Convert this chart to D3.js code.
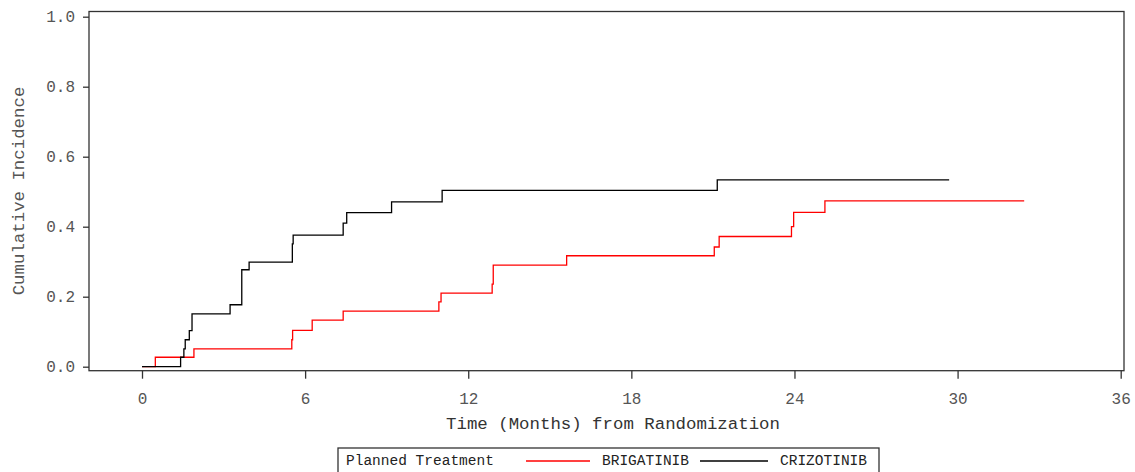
<!DOCTYPE html>
<html>
<head>
<meta charset="utf-8">
<script src="https://cdn.jsdelivr.net/npm/d3@7"></script>
<style>
  html, body { margin: 0; padding: 0; background: #fff; }
  svg { display: block; }
  text { font-family: "Liberation Mono", "Courier New", monospace; }
</style>
</head>
<body>
<svg id="chart" width="1135" height="472"></svg>
<script>
// ---- data ----
const xTicks = [0, 6, 12, 18, 24, 30, 36];
const yTicks = [0.0, 0.2, 0.4, 0.6, 0.8, 1.0];
const seriesNames = ["BRIGATINIB", "CRIZOTINIB"];
const seriesColors = ["#ff0000", "#000000"];

const brigTimes  = [0, 0.49, 1.91, 5.51, 5.54, 6.26, 7.40, 10.92, 11.00, 12.88, 12.92, 15.62, 21.05, 21.23, 23.89, 23.97, 25.12, 32.45];
const brigValues = [0, 0.027, 0.051, 0.077, 0.104, 0.133, 0.159, 0.185, 0.210, 0.236, 0.290, 0.317, 0.342, 0.372, 0.400, 0.441, 0.474, 0.474];

const crizTimes  = [0, 1.42, 1.54, 1.59, 1.74, 1.84, 3.24, 3.67, 3.94, 5.53, 5.56, 7.40, 7.53, 9.18, 11.04, 21.16, 29.69];
const crizValues = [0, 0.027, 0.051, 0.077, 0.103, 0.151, 0.177, 0.277, 0.299, 0.351, 0.376, 0.410, 0.440, 0.471, 0.504, 0.534, 0.534];

// ---- layout ----
const frame = { left: 89, top: 11.5, right: 1124, bottom: 370.7 };
const x = d3.scaleLinear().domain([0, 36]).range([142, 1120.7]);
const y = d3.scaleLinear().domain([0, 1]).range([366.7, 16.7]);

const svg = d3.select("#chart");

// curves
const line = d3.line().x(d => x(d[0])).y(d => y(d[1])).curve(d3.curveStepAfter);
const series = [
  d3.zip(brigTimes, brigValues),
  d3.zip(crizTimes, crizValues)
];
svg.append("g").selectAll("path").data(series).join("path")
  .attr("d", line)
  .attr("fill", "none")
  .attr("stroke", (d, i) => seriesColors[i])
  .attr("stroke-width", 1.3)
  .attr("stroke-linejoin", "miter");

// frame
svg.append("rect")
  .attr("x", frame.left).attr("y", frame.top)
  .attr("width", frame.right - frame.left)
  .attr("height", frame.bottom - frame.top)
  .attr("fill", "none").attr("stroke", "#333").attr("stroke-width", 1.3);

// x axis
const xAxis = d3.axisBottom(x).tickValues(xTicks).tickFormat(d3.format("d"))
  .tickSize(8).tickPadding(14);
const gx = svg.append("g").attr("transform", `translate(0,${frame.bottom})`).call(xAxis);
gx.select(".domain").remove();
gx.selectAll(".tick line").attr("stroke", "#333").attr("stroke-width", 1.3);
gx.selectAll(".tick text").attr("fill", "#555").style("font-size", "16px")
  .style("font-family", "'Liberation Mono', monospace");

// y axis
const yAxis = d3.axisLeft(y).tickValues(yTicks).tickFormat(d3.format(".1f"))
  .tickSize(6).tickPadding(8);
const gy = svg.append("g").attr("transform", `translate(${frame.left},0)`).call(yAxis);
gy.select(".domain").remove();
gy.selectAll(".tick line").attr("stroke", "#333").attr("stroke-width", 1.3);
gy.selectAll(".tick text").attr("fill", "#555").style("font-size", "16px")
  .style("font-family", "'Liberation Mono', monospace");

// axis labels
svg.append("text")
  .attr("x", 613).attr("y", 429)
  .attr("text-anchor", "middle")
  .attr("fill", "#333").style("font-size", "17.4px")
  .text("Time (Months) from Randomization");

svg.append("text")
  .attr("transform", "translate(24,191) rotate(-90)")
  .attr("text-anchor", "middle")
  .attr("fill", "#555").style("font-size", "17.4px")
  .text("Cumulative Incidence");

// legend
const lg = svg.append("g");
lg.append("rect").attr("x", 338).attr("y", 448).attr("width", 541).attr("height", 40)
  .attr("fill", "none").attr("stroke", "#333").attr("stroke-width", 1.3);
lg.append("text").attr("x", 346).attr("y", 465).attr("fill", "#222")
  .style("font-size", "14.5px").text("Planned Treatment");
const legendItems = [
  { x1: 526, x2: 590, tx: 602 },
  { x1: 700, x2: 768, tx: 780 }
];
legendItems.forEach((it, i) => {
  lg.append("line").attr("x1", it.x1).attr("x2", it.x2).attr("y1", 461).attr("y2", 461)
    .attr("stroke", seriesColors[i]).attr("stroke-width", 1.4);
  lg.append("text").attr("x", it.tx).attr("y", 465).attr("fill", "#222")
    .style("font-size", "14.5px").text(seriesNames[i]);
});
</script>
</body>
</html>
